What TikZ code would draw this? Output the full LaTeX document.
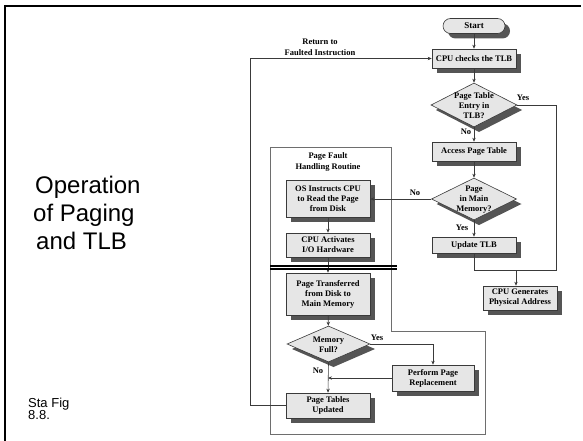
\documentclass[tikz,border=0pt]{standalone}
\usepackage{fontspec}
\setmainfont{Liberation Serif}
\newfontfamily\slidefont{Liberation Sans}
\usetikzlibrary{shapes.geometric,arrows.meta,calc}

\definecolor{boxfill}{HTML}{E6E6E6}
\definecolor{shadowgray}{HTML}{555555}
\definecolor{edgegray}{HTML}{3A3A3A}
\definecolor{routinegray}{HTML}{6E6E6E}

\tikzset{
  flow/.style={draw=edgegray, line width=0.6pt, fill=boxfill,
    font=\bfseries\fontsize{8.5}{10}\selectfont, align=center, inner sep=1pt},
  procbox/.style={flow, rectangle},
  decision/.style={flow, diamond, inner sep=0pt},
  dlabel/.style={font=\bfseries\fontsize{8.5}{10}\selectfont, align=center, inner sep=0pt},
  lbl/.style={font=\bfseries\fontsize{8.5}{10.5}\selectfont, align=center, inner sep=0pt},
  conn/.style={draw=edgegray, line width=0.6pt},
  arr/.style={conn, -{Stealth[length=4pt, width=3.4pt]}},
  slidetext/.style={font=\slidefont\fontsize{24}{28}\selectfont, anchor=base west, inner sep=0pt},
  srctext/.style={font=\slidefont\fontsize{13}{10}\selectfont, anchor=base west, inner sep=0pt},
  shadefill/.style={fill=shadowgray, draw=none},
}

% process box with its offset shadow: name, x, y, width, height, text
\newcommand\procnode[6]{%
  \fill[shadefill] ({#2-#4/2+5},{#3-#5/2+5}) rectangle ({#2+#4/2+5},{#3+#5/2+5});
  \node[procbox, minimum width=#4pt, minimum height=#5pt] (#1) at (#2,#3) {#6};}
% decision diamond with its offset shadow: name, x, y, width, height, text
\newcommand\decnode[6]{%
  \fill[shadefill] ({#2+5},{#3-#5/2+5}) -- ({#2+#4/2+5},{#3+5}) -- ({#2+5},{#3+#5/2+5}) -- ({#2-#4/2+5},{#3+5}) -- cycle;
  \node[decision, minimum width=#4pt, minimum height=#5pt] (#1) at (#2,#3) {};
  \node[dlabel] (#1t) at (#2,#3+0.5) {#6};}

\begin{document}
\begin{tikzpicture}[x=1pt, y=-1pt]
\useasboundingbox (0,0) rectangle (583,441);

% slide frame
\draw[black, line width=2.4pt] (4,6) -- (581,6);
\draw[black, line width=2pt] (5,5) -- (5,441);

% slide title and source
\node[slidetext] (t1) at (35,193) {Operation};
\node[slidetext] (t2) at (33,221) {of Paging};
\node[slidetext] (t3) at (36,249) {and TLB};
\node[srctext] (src1) at (28,407) {Sta Fig};
\node[srctext] (src2) at (28,419.5) {8.8.};

% page fault handling region
\draw[draw=routinegray, line width=0.7pt] (270,147) -- (391,147) -- (391,331) -- (485,331) -- (485,434) -- (270,434) -- cycle;
\node[lbl] (pfr) at (328,162) {Page Fault\\Handling Routine};

% main path
\fill[shadefill, rounded corners=7.5pt] (448,23.5) rectangle (510,38.5);
\node[procbox, minimum width=62pt, minimum height=15pt, rounded corners=7.5pt,
      font=\bfseries\fontsize{9}{10}\selectfont] (start) at (474,26) {Start};
\procnode{tlb}{474}{58.5}{84}{19}{CPU checks the TLB}
\decnode{d1}{474}{105}{86}{44}{Page Table\\Entry in\\TLB?}
\procnode{apt}{474}{151.5}{84}{19}{Access Page Table}
\decnode{d2}{474}{199}{85}{42}{Page\\in Main\\Memory?}
\procnode{utlb}{474}{245}{84}{16}{Update TLB}
\procnode{gen}{520}{298}{74}{24}{CPU Generates\\Physical Address}

% page fault routine
\procnode{os}{328}{198.5}{84}{37}{OS Instructs CPU\\to Read the Page\\from Disk}
\procnode{act}{328}{245}{84}{24}{CPU Activates\\I/O Hardware}
\procnode{xfer}{328}{294}{84}{42}{Page Transferred\\from Disk to\\Main Memory}
\decnode{d3}{328.5}{344}{83}{36}{Memory\\Full?}
\procnode{repl}{433}{378}{82}{26}{Perform Page\\Replacement}
\procnode{upd}{328}{405.5}{84}{25}{Page Tables\\Updated}

% branch labels
\node[lbl] (yes1) at (523,98) {Yes};
\node[lbl] (no1) at (466,131.5) {No};
\node[lbl] (no2) at (415,193) {No};
\node[lbl] (yes2) at (462,227.5) {Yes};
\node[lbl] (yes3) at (377,338) {Yes};
\node[lbl] (no3) at (318,371) {No};
\node[lbl] (ret) at (320,47.5) {Return to\\Faulted Instruction};

% connectors
\coordinate (join) at (516,270);
\coordinate (merge) at (328,378);
\coordinate (rb) at (250,405.5);
\coordinate (rt) at (250,58.5);

\draw[arr] (start) -- (tlb);
\draw[arr] (tlb) -- (d1);
\draw[arr] (d1) -- (apt);
\draw[arr] (apt) -- (d2);
\draw[arr] (d2) -- (utlb);
\draw[conn] (d1.east) -| (556,270) -- (join);
\draw[arr] (utlb.south) |- (join) -- (join |- gen.north);
\draw[arr] (d2.west) -- (d2.west -| os.east);
\draw[arr] (os) -- (act);
\draw[arr] (act) -- (xfer);
\draw[arr] (xfer) -- (d3);
\draw[arr] (d3.east) -| (repl.north);
\draw[arr] (repl.west) -- (merge);
\draw[arr] (d3.south) -- (upd.north);
\draw[arr] (upd.west) -- (rb) -- (rt) -- (tlb.west);

% boundary between CPU and I/O activity
\draw[black, line width=1.4pt] (270,265.8) -- (397,265.8);
\draw[black, line width=1.4pt] (270,269) -- (397,269);
\end{tikzpicture}
\end{document}
